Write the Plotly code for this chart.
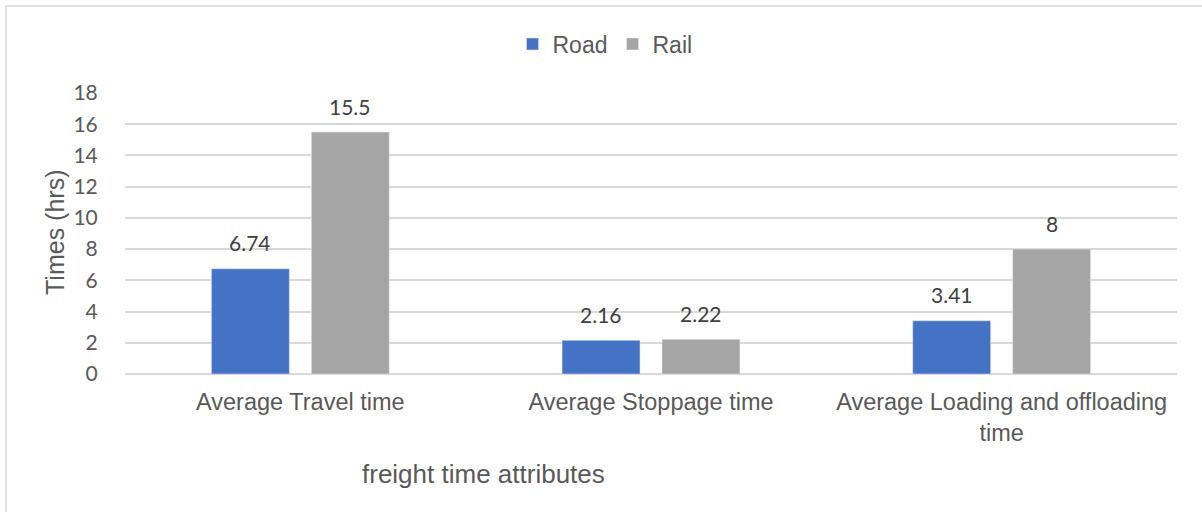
import plotly.graph_objects as go

categories = ["Average Travel time", "Average Stoppage time", "Average Loading and offloading<br>time"]
road = [6.74, 2.16, 3.41]
rail = [15.5, 2.22, 8]
road_labels = ["6.74", "2.16", "3.41"]
rail_labels = ["15.5", "2.22", "8"]
y_ticks = [0, 2, 4, 6, 8, 10, 12, 14, 16, 18]

W, H = 1202, 512
L, R, T, B = 125, 25, 93, 138
pw, ph = W - L - R, H - T - B

def px_x(x):
    return (x - L) / pw

def px_y(y):
    return (H - B - y) / ph

fig = go.Figure()
fig.add_trace(go.Bar(name="Road", x=categories, y=road, marker_color="#4472C4"))
fig.add_trace(go.Bar(name="Rail", x=categories, y=rail, marker_color="#A5A5A5"))

label_font = dict(size=21, color="#404040", family="Lato")
annotations = []
for vals, labels, shift in ((road, road_labels, -50), (rail, rail_labels, 50)):
    for c, v, t in zip(categories, vals, labels):
        annotations.append(dict(x=c, y=v, xref="x", yref="y", text=t, showarrow=False,
                                xshift=shift, yshift=26, xanchor="center", yanchor="middle",
                                font=label_font))

annotations += [
    dict(text="Times (hrs)", textangle=-90, xref="paper", yref="paper",
         x=px_x(55), y=px_y(233), xanchor="center", yanchor="middle", showarrow=False,
         font=dict(size=25, color="#595959", family="Liberation Sans")),
    dict(text="freight time attributes", xref="paper", yref="paper",
         x=px_x(483), y=px_y(474), xanchor="center", yanchor="middle", showarrow=False,
         font=dict(size=26, color="#595959", family="Liberation Sans")),
]

fig.update_layout(
    width=W, height=H,
    margin=dict(l=L, r=R, t=T, b=B),
    paper_bgcolor="white", plot_bgcolor="white",
    barmode="group", bargap=0.43, bargroupgap=0.22,
    font=dict(family="Liberation Sans", color="#595959"),
    legend=dict(orientation="h", x=px_x(605), xanchor="center", y=px_y(44), yanchor="middle",
                font=dict(size=23, color="#595959"), itemwidth=30, traceorder="normal",
                tracegroupgap=0),
    xaxis=dict(showgrid=False, showline=False, tickfont=dict(size=23.5, color="#595959"),
               ticks="outside", ticklen=7, tickcolor="rgba(0,0,0,0)"),
    yaxis=dict(range=[0, 18], tickvals=y_ticks, showgrid=True, gridcolor="#D9D9D9", gridwidth=1.5,
               zeroline=True, zerolinecolor="#D9D9D9", zerolinewidth=1.5, showline=False,
               tickfont=dict(size=21, color="#595959", family="Lato"),
               ticks="outside", ticklen=22, tickcolor="rgba(0,0,0,0)"),
    annotations=annotations,
    shapes=[
        dict(type="rect", xref="paper", yref="paper", x0=px_x(6), x1=px_x(1260),
             y0=px_y(560), y1=px_y(6), line=dict(color="#D9D9D9", width=1.5), layer="below"),
    ],
)

fig.write_html("out.html")
